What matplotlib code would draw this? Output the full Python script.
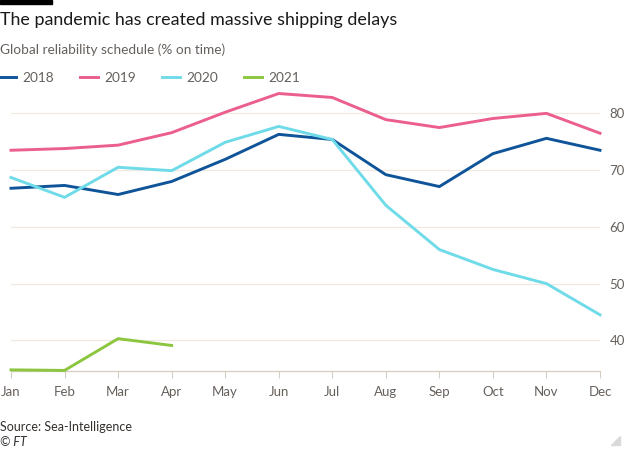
import matplotlib.pyplot as plt
from matplotlib.patches import Rectangle, Polygon

# ── Data ──────────────────────────────────────────────────────────────────────
months = ['Jan', 'Feb', 'Mar', 'Apr', 'May', 'Jun',
          'Jul', 'Aug', 'Sep', 'Oct', 'Nov', 'Dec']
y2018 = [66.8, 67.3, 65.7, 68.0, 71.9, 76.3, 75.4, 69.2, 67.1, 72.9, 75.6, 73.5]
y2019 = [73.5, 73.8, 74.4, 76.6, 80.2, 83.5, 82.8, 78.9, 77.5, 79.1, 80.0, 76.5]
y2020 = [68.7, 65.2, 70.5, 69.9, 74.9, 77.7, 75.4, 63.8, 56.0, 52.5, 50.0, 44.5]
y2021 = [34.8, 34.7, 40.3, 39.1]
yticks = [40, 50, 60, 70, 80]

series = [('2018', y2018, '#0f5499'),
          ('2019', y2019, '#eb5e8d'),
          ('2020', y2020, '#6fdbe8'),
          ('2021', y2021, '#8cc63f')]

plt.rcParams['font.family'] = ['Lato', 'DejaVu Sans']
GREY = '#66605c'
GRID = '#f0e9e2'

fig = plt.figure(figsize=(6.3, 4.5), dpi=100, facecolor='white')
ax = fig.add_axes([11 / 630, 1 - 371 / 450, (600 - 11) / 630, (371 - 85) / 450])
ax.set_facecolor('white')

x = list(range(len(months)))
for name, vals, col in series:
    ax.plot(x[:len(vals)], vals, color=col, lw=2.1, label=name,
            solid_joinstyle='miter', clip_on=False, zorder=3)

ax.set_xlim(0, 11)
ax.set_ylim(34.6, 85)
ax.set_xticks(x)
ax.set_xticklabels(months)
ax.set_yticks(yticks)
ax.yaxis.tick_right()
ax.grid(axis='y', color=GRID, lw=0.9)
ax.tick_params(axis='y', length=0, pad=7, labelsize=9.5, labelcolor=GREY)
ax.tick_params(axis='x', length=5, width=0.8, color='#d6ccc2', pad=6,
               labelsize=9.5, labelcolor=GREY)
for s in ['top', 'left', 'right']:
    ax.spines[s].set_visible(False)
ax.spines['bottom'].set_color('#d6ccc2')
ax.spines['bottom'].set_linewidth(0.9)

# ── Titles / legend ──────────────────────────────────────────────────────────
fig.add_artist(Rectangle((0, 1 - 4 / 450), 52 / 630, 4 / 450,
                         transform=fig.transFigure, color='black'))
fig.text(0.0, 1 - 20 / 450, 'The pandemic has created massive shipping delays',
         fontsize=12.9, color='#1a1a1a', va='center', ha='left')
fig.text(0.0, 1 - 50 / 450, 'Global reliability schedule (% on time)',
         fontsize=9.8, color=GREY, va='center', ha='left')
leg = fig.legend(loc='center left', bbox_to_anchor=(-0.003, 1 - 78 / 450),
                 ncol=4, frameon=False, fontsize=9.8, handlelength=1.3,
                 handletextpad=0.5, columnspacing=1.9, borderaxespad=0,
                 borderpad=0)
for t in leg.get_texts():
    t.set_color(GREY)

fig.text(0.0, 1 - 427 / 450, 'Source: Sea-Intelligence',
         fontsize=9, color='#33302e', va='center', ha='left')
fig.text(0.0, 1 - 442 / 450, '© FT', fontsize=9, style='italic',
         color='#33302e', va='center', ha='left')
fig.add_artist(Polygon([(620 / 630, 1 - 436 / 450), (620 / 630, 1 - 445 / 450),
                        (611 / 630, 1 - 445 / 450)], closed=True,
                       transform=fig.transFigure, color='#d9d9d9'))

fig.savefig('out.png', dpi=100, facecolor='white')
